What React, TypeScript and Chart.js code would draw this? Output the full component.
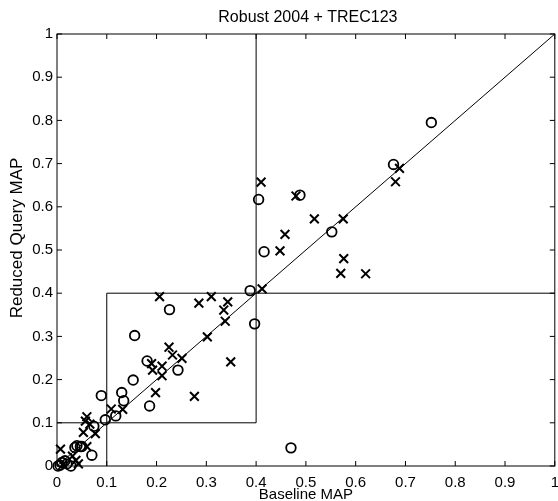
import React, { useEffect, useRef } from 'react';
import { Chart, registerables } from 'chart.js';

Chart.register(...registerables);

const titleText = 'Robust 2004 + TREC123';
const xAxisLabel = 'Baseline MAP';
const yAxisLabel = 'Reduced Query MAP';

const tickValues = [0, 0.1, 0.2, 0.3, 0.4, 0.5, 0.6, 0.7, 0.8, 0.9, 1];
const tickLabels = ['0', '0.1', '0.2', '0.3', '0.4', '0.5', '0.6', '0.7', '0.8', '0.9', '1'];

// circles (o): baseline MAP, reduced query MAP
const circleBaseline = [0.752, 0.676, 0.488, 0.405, 0.552, 0.416, 0.388, 0.397, 0.226, 0.156, 0.181, 0.243, 0.153, 0.130, 0.134, 0.089, 0.186, 0.097, 0.118, 0.074, 0.470, 0.070, 0.047, 0.040, 0.036, 0.050, 0.028, 0.016, 0.006, 0.010, 0.002, 0.020];
const circleReduced = [0.795, 0.698, 0.627, 0.617, 0.542, 0.496, 0.406, 0.329, 0.362, 0.302, 0.243, 0.222, 0.199, 0.170, 0.151, 0.163, 0.139, 0.107, 0.116, 0.092, 0.042, 0.025, 0.045, 0.047, 0.043, 0.045, 0.000, 0.012, 0.002, 0.008, 0.000, 0.005];

// crosses (x): baseline MAP, reduced query MAP
const crossBaseline = [0.688, 0.680, 0.410, 0.480, 0.517, 0.575, 0.458, 0.448, 0.576, 0.570, 0.620, 0.412, 0.206, 0.310, 0.285, 0.343, 0.335, 0.338, 0.302, 0.225, 0.232, 0.251, 0.349, 0.190, 0.192, 0.211, 0.211, 0.198, 0.276, 0.109, 0.132, 0.060, 0.057, 0.066, 0.053, 0.077, 0.060, 0.007, 0.038, 0.031, 0.043, 0.012];
const crossReduced = [0.689, 0.658, 0.657, 0.625, 0.572, 0.572, 0.536, 0.498, 0.480, 0.446, 0.445, 0.410, 0.392, 0.392, 0.377, 0.380, 0.361, 0.335, 0.299, 0.275, 0.257, 0.249, 0.241, 0.237, 0.222, 0.231, 0.209, 0.170, 0.161, 0.132, 0.131, 0.114, 0.104, 0.097, 0.078, 0.075, 0.045, 0.039, 0.013, 0.023, 0.005, 0.003];

// reference lines: [x1, y1, x2, y2]
const referenceSegments = [
  [0, 0, 1, 1],
  [0, 0.1, 0.4, 0.1],
  [0.1, 0, 0.1, 0.4],
  [0.1, 0.4, 1, 0.4],
  [0.4, 0.1, 0.4, 1],
];

const FONT = '"Liberation Sans", Arial, Helvetica, sans-serif';

const framePlugin = {
  id: 'matlabFrame',
  afterDraw(chart: any) {
    const { ctx, chartArea: a, scales } = chart;
    const xs = scales.x;
    const ys = scales.y;
    ctx.save();
    ctx.strokeStyle = '#000';
    ctx.lineWidth = 1;
    ctx.strokeRect(a.left, a.top, a.right - a.left, a.bottom - a.top);
    const tl = 5;
    ctx.beginPath();
    tickValues.forEach((v) => {
      const px = xs.getPixelForValue(v);
      ctx.moveTo(px, a.bottom);
      ctx.lineTo(px, a.bottom - tl);
      ctx.moveTo(px, a.top);
      ctx.lineTo(px, a.top + tl);
      const py = ys.getPixelForValue(v);
      ctx.moveTo(a.left, py);
      ctx.lineTo(a.left + tl, py);
      ctx.moveTo(a.right, py);
      ctx.lineTo(a.right - tl, py);
    });
    ctx.stroke();

    ctx.fillStyle = '#000';
    ctx.font = `16px ${FONT}`;
    ctx.textAlign = 'center';
    ctx.textBaseline = 'middle';
    ctx.fillText(titleText, (a.left + a.right) / 2 + 2, 18);

    ctx.translate(17.5, 238);
    ctx.rotate(-Math.PI / 2);
    ctx.font = `17px ${FONT}`;
    ctx.fillText(yAxisLabel, 0, 0);
    ctx.restore();
  },
};

export default function App() {
  const canvasRef = useRef<HTMLCanvasElement | null>(null);

  useEffect(() => {
    if (!canvasRef.current) return;
    const circles = circleBaseline.map((x, i) => ({ x, y: circleReduced[i] }));
    const crosses = crossBaseline.map((x, i) => ({ x, y: crossReduced[i] }));
    const lineSets = referenceSegments.map((s) => ({
      type: 'line' as const,
      data: [
        { x: s[0], y: s[1] },
        { x: s[2], y: s[3] },
      ],
      borderColor: '#000',
      borderWidth: 1,
      pointRadius: 0,
      fill: false,
      tension: 0,
      clip: false as any,
    }));

    const chart = new Chart(canvasRef.current, {
      type: 'scatter',
      data: {
        datasets: [
          {
            data: crosses,
            pointStyle: 'crossRot',
            pointRadius: 6.2,
            pointBorderWidth: 2,
            borderColor: '#000',
            backgroundColor: '#000',
            clip: false as any,
          },
          {
            data: circles,
            pointStyle: 'circle',
            pointRadius: 4.8,
            pointBorderWidth: 1.8,
            borderColor: '#000',
            backgroundColor: 'rgba(0,0,0,0)',
            clip: false as any,
          },
          ...(lineSets as any),
        ],
      },
      options: {
        responsive: false,
        animation: false,
        events: [],
        layout: { padding: { left: 0, right: 0, top: 34, bottom: 0 } },
        plugins: {
          legend: { display: false },
          tooltip: { enabled: false },
          title: { display: false },
        },
        scales: {
          x: {
            type: 'linear',
            min: 0,
            max: 1,
            afterBuildTicks: (scale: any) => {
              scale.ticks = tickValues.map((v) => ({ value: v }));
            },
            afterFit: (scale: any) => {
              scale.height = 35;
              scale.paddingLeft = 0;
              scale.paddingRight = 0;
              scale.paddingTop = 0;
              scale.paddingBottom = 0;
            },
            grid: { display: false, drawTicks: false },
            border: { display: false },
            ticks: {
              color: '#000',
              font: { family: FONT, size: 15 },
              padding: 8,
              maxRotation: 0,
              autoSkip: false,
              callback: (_v: any, i: number) => tickLabels[i],
            },
            title: {
              display: true,
              text: xAxisLabel,
              color: '#000',
              font: { family: FONT, size: 15, lineHeight: 1 },
              padding: { top: 0, bottom: -1 },
            },
          },
          y: {
            type: 'linear',
            min: 0,
            max: 1,
            afterBuildTicks: (scale: any) => {
              scale.ticks = tickValues.map((v) => ({ value: v }));
            },
            afterFit: (scale: any) => {
              scale.width = 57;
              scale.paddingLeft = 0;
              scale.paddingRight = 0;
              scale.paddingTop = 0;
              scale.paddingBottom = 0;
            },
            grid: { display: false, drawTicks: false },
            border: { display: false },
            ticks: {
              color: '#000',
              font: { family: FONT, size: 15 },
              padding: 4,
              autoSkip: false,
              callback: (_v: any, i: number) => tickLabels[i],
            },
          },
        },
      },
      plugins: [framePlugin],
    } as any);

    return () => chart.destroy();
  }, []);

  return (
    <div style={{ position: 'absolute', left: 0, top: 0, width: 558, height: 501, overflow: 'hidden', background: '#fff' }}>
      <canvas ref={canvasRef} width={563} height={501} style={{ display: 'block' }} />
    </div>
  );
}
